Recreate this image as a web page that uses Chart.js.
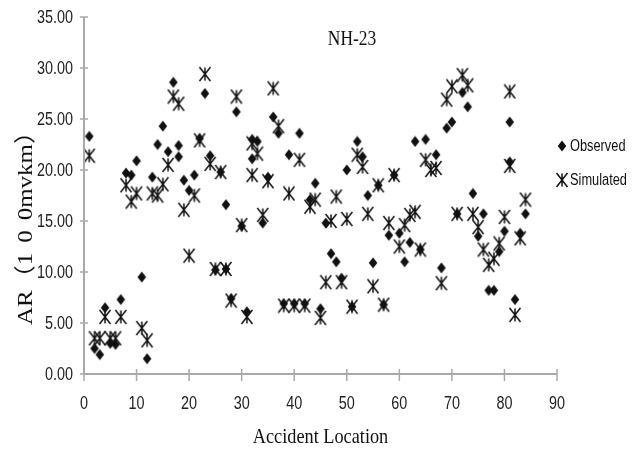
<!DOCTYPE html>
<html>
<head>
<meta charset="utf-8">
<script src="https://cdn.jsdelivr.net/npm/chart.js@4.4.0/dist/chart.umd.min.js"></script>
<style>
  html, body { margin: 0; padding: 0; background: #fff; }
  #wrap { width: 642px; height: 452px; }
</style>
</head>
<body>
<div id="wrap"><canvas id="chart" width="642" height="452"></canvas></div>
<script>
// Accident rate per location, observed vs simulated
const obsX = [1, 2, 3, 4, 5, 6, 7, 8, 9, 10, 11, 12, 13, 14, 15, 16, 17, 18, 18, 19,
              20, 21, 22, 23, 24, 25, 26, 27, 27, 28, 29, 30, 31, 32, 32, 33, 34, 35, 36, 37,
              38, 39, 40, 41, 42, 43, 44, 45, 46, 47, 48, 49, 50, 51, 52, 53, 54, 55, 56, 57,
              58, 59, 60, 61, 62, 63, 64, 65, 67, 68, 69, 70, 71, 72, 73, 74, 75, 76, 77, 78,
              79, 80, 81, 81, 82, 83, 84];
const obsY = [23.3, 2.5, 1.9, 6.5, 3.0, 2.9, 7.3, 19.7, 19.5, 20.9, 9.5, 1.5, 19.3, 22.5, 24.3, 21.8, 28.6, 22.4, 21.3, 19.0,
              18.0, 19.5, 23.1, 27.5, 21.4, 10.2, 19.8, 16.6, 10.3, 7.4, 25.7, 14.5, 6.1, 23.0, 21.1, 22.8, 14.8, 19.3, 25.2, 23.6,
              6.9, 21.5, 6.9, 23.6, 6.9, 17.1, 18.7, 6.4, 14.8, 11.8, 11.0, 9.4, 20.0, 6.6, 22.8, 21.3, 17.5, 10.9, 18.5, 6.8,
              13.6, 19.5, 13.8, 11.0, 12.9, 22.8, 12.2, 23.0, 21.5, 10.4, 24.1, 24.7, 15.7, 27.6, 26.2, 17.7, 13.5, 15.7, 8.2, 8.2,
              12.0, 14.0, 24.7, 20.8, 7.3, 13.8, 15.7];

const simX = [1, 2, 3, 4, 5, 6, 7, 8, 9, 10, 11, 12, 13, 14, 15, 16, 17, 18, 19, 20,
              21, 22, 23, 24, 25, 26, 27, 28, 29, 30, 31, 32, 32, 33, 34, 35, 36, 37, 38, 39,
              40, 41, 42, 43, 44, 45, 46, 47, 48, 49, 50, 51, 52, 53, 54, 55, 56, 57, 58, 59,
              60, 61, 62, 63, 64, 65, 66, 67, 68, 69, 70, 71, 72, 73, 74, 75, 76, 77, 78, 79,
              80, 81, 81, 82, 83, 84];
const simY = [21.4, 3.5, 3.5, 5.6, 3.5, 3.5, 5.6, 18.5, 16.9, 17.7, 4.5, 3.3, 17.7, 17.5, 18.6, 20.5, 27.2, 26.5, 16.1, 11.6,
              17.5, 22.9, 29.4, 20.6, 10.3, 19.8, 10.3, 7.2, 27.2, 14.6, 5.6, 22.6, 19.5, 21.6, 15.6, 18.9, 28.0, 24.3, 6.7, 17.7,
              6.7, 21.0, 6.7, 16.4, 17.1, 5.5, 9.0, 15.0, 17.4, 9.0, 15.2, 6.6, 21.5, 20.3, 15.7, 8.6, 18.5, 6.8, 14.8, 19.5,
              12.5, 14.6, 15.6, 15.9, 12.2, 21.0, 20.0, 20.2, 8.9, 26.9, 28.2, 15.7, 29.3, 28.3, 15.7, 14.4, 12.2, 10.7, 11.3, 12.8,
              15.4, 27.7, 20.4, 5.8, 13.3, 17.1];

const xTicks = [0, 10, 20, 30, 40, 50, 60, 70, 80, 90];
const yTicks = [0, 5, 10, 15, 20, 25, 30, 35];
const seriesNames = ['Observed', 'Simulated'];
const chartTitle = 'NH-23';
const xTitle = 'Accident Location';
const yTitle = 'AR（100mvkm）';

const axisColor = '#a9a9a9';
const markColor = '#111';
const sansFont = "'Liberation Sans', Arial, sans-serif";
const serifFont = "'Liberation Serif', 'Noto Sans CJK SC', serif";

function makeDiamond() {
    const c = document.createElement('canvas');
    c.width = 10; c.height = 12;
    const g = c.getContext('2d');
    g.fillStyle = markColor;
    g.beginPath();
    g.moveTo(5, 0.5);
    g.lineTo(9.3, 6);
    g.lineTo(5, 11.5);
    g.lineTo(0.7, 6);
    g.closePath();
    g.fill();
    return c;
}

function makeStar() {
    const c = document.createElement('canvas');
    c.width = 14; c.height = 16;
    const g = c.getContext('2d');
    g.strokeStyle = markColor;
    g.lineWidth = 1.5;
    g.beginPath();
    g.moveTo(1.5, 1); g.lineTo(12.5, 15);
    g.moveTo(12.5, 1); g.lineTo(1.5, 15);
    g.moveTo(7, 1.5); g.lineTo(7, 14.5);
    g.stroke();
    return c;
}

const diamond = makeDiamond();
const star = makeStar();

function toPoints(xs, ys) {
    return xs.map((x, i) => ({ x: x, y: ys[i] }));
}

// condensed text: squeeze horizontally around the anchor point
function squeezedText(ctx, text, x, y, font, sx, align) {
    ctx.save();
    ctx.translate(x, y);
    ctx.scale(sx, 1);
    ctx.font = font;
    ctx.textAlign = align;
    ctx.fillText(text, 0, 0);
    ctx.restore();
}

// y title: digit runs get extra spacing, centred on (0, 0)
function spacedTitle(ctx, text, font, digitGap) {
    ctx.font = font;
    const parts = text.split(/(\d+)/).filter(p => p.length);
    const widthOf = p => /^\d+$/.test(p)
        ? ctx.measureText(p).width + digitGap * (p.length - 1)
        : ctx.measureText(p).width;
    const total = parts.reduce((s, p) => s + widthOf(p), 0);
    let cx = -total / 2;
    ctx.textAlign = 'left';
    parts.forEach(p => {
        if (/^\d+$/.test(p)) {
            for (const ch of p) {
                ctx.fillText(ch, cx, 0);
                cx += ctx.measureText(ch).width + digitGap;
            }
            cx -= digitGap;
        } else {
            ctx.fillText(p, cx, 0);
            cx += ctx.measureText(p).width;
        }
    });
}

// axis lines with crossing tick marks, tick labels, titles and legend
const framePlugin = {
    id: 'frame',
    afterDraw(chart) {
        const ctx = chart.ctx;
        const xs = chart.scales.x;
        const ys = chart.scales.y;
        const x0 = xs.getPixelForValue(0);
        const x1 = xs.getPixelForValue(90);
        const y0 = ys.getPixelForValue(0);
        const y1 = ys.getPixelForValue(35);

        ctx.save();
        ctx.strokeStyle = axisColor;
        ctx.lineWidth = 2;
        ctx.beginPath();
        ctx.moveTo(x0, y1); ctx.lineTo(x0, y0);
        ctx.moveTo(x0, y0); ctx.lineTo(x1, y0);
        ctx.stroke();

        ctx.lineWidth = 1.5;
        ctx.beginPath();
        yTicks.forEach(v => {
            const py = ys.getPixelForValue(v);
            ctx.moveTo(x0 - 4, py); ctx.lineTo(x0 + 4, py);
        });
        xTicks.forEach(v => {
            const px = xs.getPixelForValue(v);
            ctx.moveTo(px, y0 - 5); ctx.lineTo(px, y0 + 7);
        });
        ctx.stroke();

        ctx.textBaseline = 'middle';
        ctx.fillStyle = '#222';
        const tickFont = '18px ' + sansFont;
        yTicks.forEach(v => {
            squeezedText(ctx, v.toFixed(2), x0 - 11, ys.getPixelForValue(v) + 1, tickFont, 0.8, 'right');
        });
        xTicks.forEach(v => {
            squeezedText(ctx, String(v), xs.getPixelForValue(v), 404, tickFont, 0.8, 'center');
        });

        ctx.fillStyle = '#111';
        squeezedText(ctx, chartTitle, 352, 40, '20px ' + serifFont, 0.87, 'center');
        squeezedText(ctx, xTitle, (x0 + x1) / 2, 437, '21px ' + serifFont, 0.87, 'center');

        ctx.save();
        ctx.translate(26, 222);
        ctx.rotate(-Math.PI / 2);
        ctx.scale(1, 0.87);
        spacedTitle(ctx, yTitle, '25px ' + serifFont, 10);
        ctx.restore();

        // legend
        const legendFont = '16px ' + sansFont;
        ctx.drawImage(diamond, 562 - diamond.width / 2, 146 - diamond.height / 2);
        squeezedText(ctx, seriesNames[0], 570, 147, legendFont, 0.8, 'left');
        ctx.drawImage(star, 562 - star.width / 2, 180 - star.height / 2);
        squeezedText(ctx, seriesNames[1], 570, 181, legendFont, 0.8, 'left');
        ctx.restore();
    }
};

new Chart(document.getElementById('chart'), {
    type: 'scatter',
    data: {
        datasets: [
            {
                label: seriesNames[0],
                data: toPoints(obsX, obsY),
                pointStyle: diamond,
                showLine: false
            },
            {
                label: seriesNames[1],
                data: toPoints(simX, simY),
                pointStyle: star,
                showLine: false
            }
        ]
    },
    options: {
        responsive: false,
        animation: false,
        layout: {
            padding: { left: 0, top: 17, right: 85, bottom: 0 }
        },
        plugins: {
            legend: { display: false },
            tooltip: { enabled: false },
            title: { display: false }
        },
        scales: {
            x: {
                type: 'linear',
                min: 0,
                max: 90,
                afterFit: scale => { scale.height = 78; },
                afterBuildTicks: scale => { scale.ticks = xTicks.map(v => ({ value: v })); },
                grid: { display: false, drawTicks: false },
                border: { display: false },
                ticks: { display: false }
            },
            y: {
                type: 'linear',
                min: 0,
                max: 35,
                afterFit: scale => { scale.width = 84; },
                afterBuildTicks: scale => { scale.ticks = yTicks.map(v => ({ value: v })); },
                grid: { display: false, drawTicks: false },
                border: { display: false },
                ticks: { display: false }
            }
        }
    },
    plugins: [framePlugin]
});
</script>
</body>
</html>
